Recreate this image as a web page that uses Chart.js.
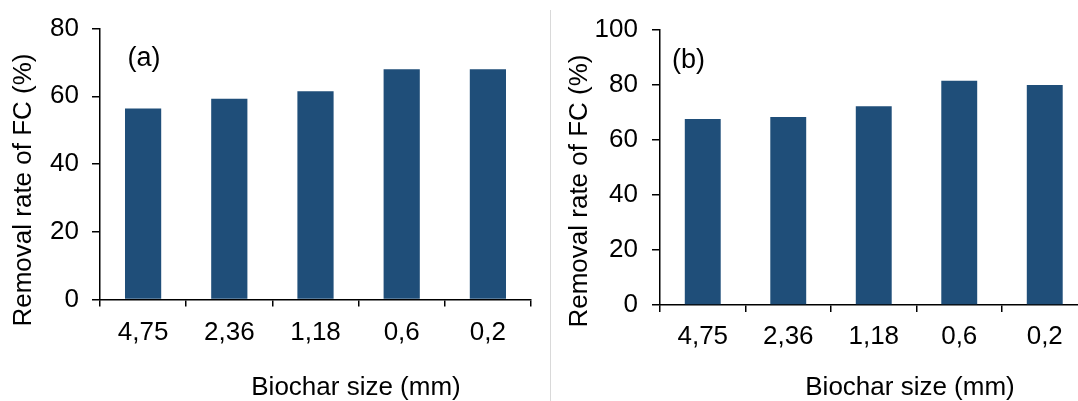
<!DOCTYPE html>
<html>
<head>
<meta charset="utf-8">
<script src="https://cdn.jsdelivr.net/npm/chart.js@4.4.1/dist/chart.umd.min.js"></script>
<style>
  html, body { margin: 0; padding: 0; background: #fff; overflow: hidden; width: 1078px; height: 401px; }
  #wrapA { position: absolute; left: 0; top: 0; width: 540px; height: 401px; }
  #wrapB { position: absolute; left: 551px; top: 0; width: 560px; height: 401px; }
  #divider { position: absolute; left: 550px; top: 10px; width: 1px; height: 391px; background: #d9d9d9; }
</style>
</head>
<body>
<div id="wrapA"><canvas id="chartA" width="540" height="401"></canvas></div>
<div id="divider"></div>
<div id="wrapB"><canvas id="chartB" width="560" height="401"></canvas></div>
<script>
// biochar sizes (mm) on the x axis
const sizes = ['4,75', '2,36', '1,18', '0,6', '0,2']
// removal rate of FC (%)
const removalA = [56.4, 59.3, 61.5, 68.0, 68.0]
const removalB = [67.5, 68.3, 72.2, 81.4, 79.9]
const yTicksA = [0, 20, 40, 60, 80]
const yTicksB = [0, 20, 40, 60, 80, 100]

const FONT = '"Liberation Sans", Arial, sans-serif'
const barColor = '#1F4E79'

// draws axis titles and the panel letter where the original figure has them
const annotate = {
    id: 'annotate',
    afterDraw(chart, args, opts) {
        const ctx = chart.ctx
        ctx.save()
        ctx.fillStyle = '#000'
        ctx.textAlign = 'center'
        ctx.textBaseline = 'middle'
        ctx.font = '26px ' + FONT
        ctx.fillText(opts.xTitle, opts.xPos[0], opts.xPos[1])
        ctx.save()
        ctx.translate(opts.yPos[0], opts.yPos[1])
        ctx.rotate(-Math.PI / 2)
        ctx.fillText(opts.yTitle, 0, 0)
        ctx.restore()
        ctx.font = '27px ' + FONT
        ctx.fillText(opts.panel, opts.panelPos[0], opts.panelPos[1])
        ctx.restore()
    }
}

function makeChart(id, values, yTicks, geo) {
    const ctx = document.getElementById(id)
    return new Chart(ctx, {
        type: 'bar',
        data: {
            labels: sizes,
            datasets: [{
                data: values,
                backgroundColor: barColor,
                borderWidth: 0,
                categoryPercentage: 1,
                barPercentage: 0.42
            }]
        },
        plugins: [annotate],
        options: {
            responsive: false,
            animation: false,
            layout: { padding: { left: 0, top: geo.top, right: geo.right, bottom: 0 } },
            plugins: {
                legend: { display: false },
                tooltip: { enabled: false },
                annotate: geo.text
            },
            scales: {
                x: {
                    afterFit: (scale) => { scale.height = geo.xHeight },
                    border: { color: '#000', width: 1.5 },
                    grid: { offset: true, drawOnChartArea: false, drawTicks: true, tickLength: 7, color: '#000', lineWidth: 1.5 },
                    ticks: { color: '#000', padding: geo.xPad, font: { family: FONT, size: 26 } }
                },
                y: {
                    min: yTicks[0],
                    max: yTicks[yTicks.length - 1],
                    afterFit: (scale) => { scale.width = geo.yWidth },
                    afterBuildTicks: (scale) => { scale.ticks = yTicks.map(v => ({ value: v })) },
                    border: { color: '#000', width: 1.5 },
                    grid: { drawOnChartArea: false, drawTicks: true, tickLength: 8, color: '#000', lineWidth: 1.5 },
                    ticks: { color: '#000', padding: geo.yPad, font: { family: FONT, size: 26 } }
                }
            }
        }
    })
}

makeChart('chartA', removalA, yTicksA, {
    top: 25, right: 9, xHeight: 101.5, yWidth: 100, xPad: 11, yPad: 13,
    text: {
        xTitle: 'Biochar size (mm)', xPos: [356, 388],
        yTitle: 'Removal rate of FC (%)', yPos: [24, 190],
        panel: '(a)', panelPos: [144, 59]
    }
})

makeChart('chartB', removalB, yTicksB, {
    top: 26, right: 23.5, xHeight: 96, yWidth: 109, xPad: 9.5, yPad: 14,
    text: {
        xTitle: 'Biochar size (mm)', xPos: [359, 388],
        yTitle: 'Removal rate of FC (%)', yPos: [29, 191],
        panel: '(b)', panelPos: [137.5, 61]
    }
})
</script>
</body>
</html>
